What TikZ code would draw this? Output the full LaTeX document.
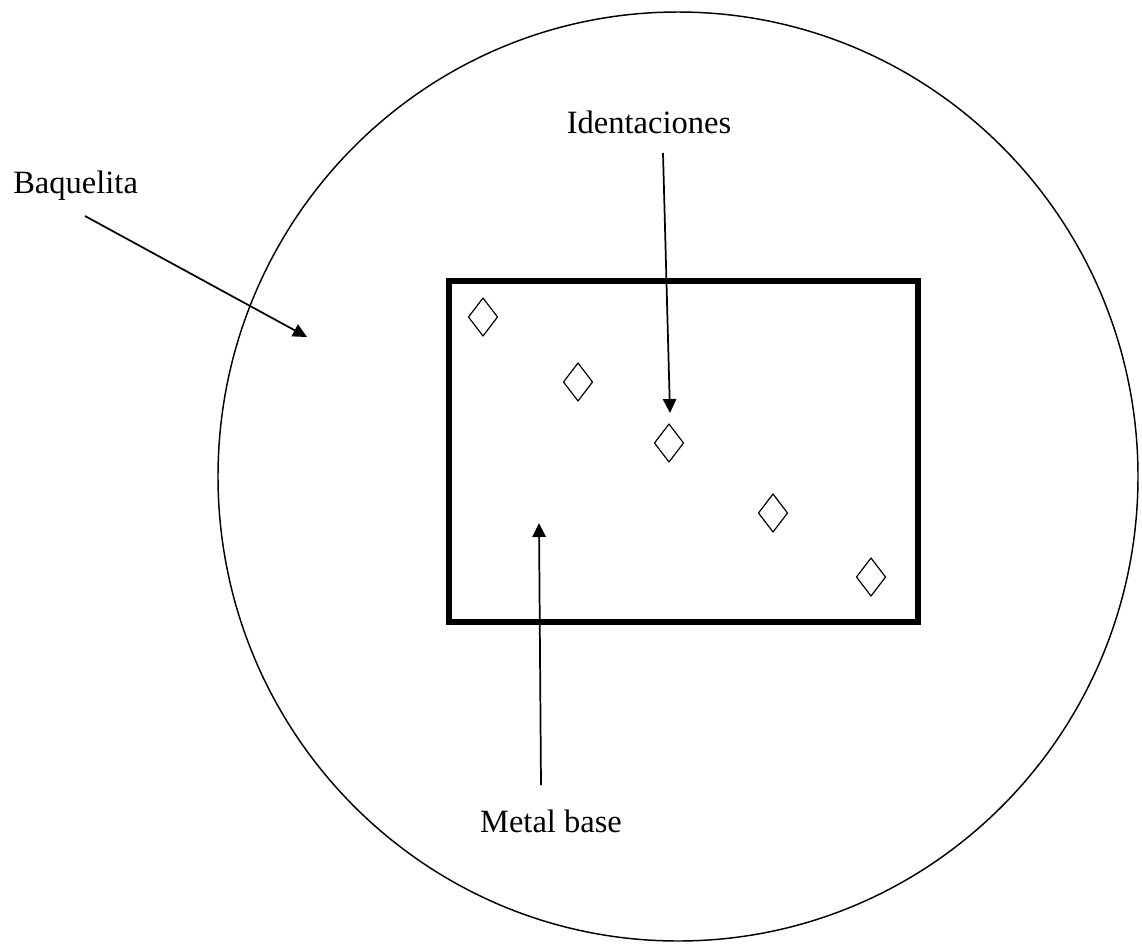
\documentclass[tikz,border=0pt]{standalone}
\usepackage{fontspec}
\setmainfont{Liberation Serif}
\usetikzlibrary{arrows.meta,calc}
\begin{document}
\begin{tikzpicture}[x=0.75pt,y=-0.75pt,
  label/.style={inner sep=0pt,font=\fontsize{24.4}{28}\selectfont},
  pointer/.style={line width=1.3pt,-{Triangle[length=10.5pt,width=10pt]}},
  dent/.style={line width=0.9pt,line join=round}]
  \useasboundingbox (0,0) rectangle (1142,943);
  % bakelite mount
  \draw[line width=1.1pt] (678,476.5) ellipse [x radius=460, y radius=464.5];
  % metal base
  \draw[line width=5pt] (449,281) rectangle (918,622);
  % indentations
  \foreach \n/\cx/\cy in {1/483/317, 2/578/382, 3/669/443, 4/773/513, 5/871/577} {
    \coordinate (d\n) at (\cx,\cy);
    \draw[dent] ($(d\n)+(0,-19)$) -- ($(d\n)+(14.5,0)$) -- ($(d\n)+(0,19)$) -- ($(d\n)+(-14.5,0)$) -- cycle;
  }
  % labels
  \node[label,anchor=base west] (baq) at (13,193) {Baquelita};
  \node[label,anchor=base] (ident) at (649,133) {Identaciones};
  \node[label,anchor=base] (metal) at (551,832) {Metal base};
  % pointers
  \coordinate (baqT) at (85,216);   \coordinate (baqH) at (307,337);
  \coordinate (idT) at (663,153);   \coordinate (idH) at (670,413);
  \coordinate (meT) at (541,785);   \coordinate (meH) at (539,523);
  \draw[pointer] (baqT) -- (baqH);
  \draw[pointer] (idT) -- (idH);
  \draw[pointer] (meT) -- (meH);
\end{tikzpicture}
\end{document}
